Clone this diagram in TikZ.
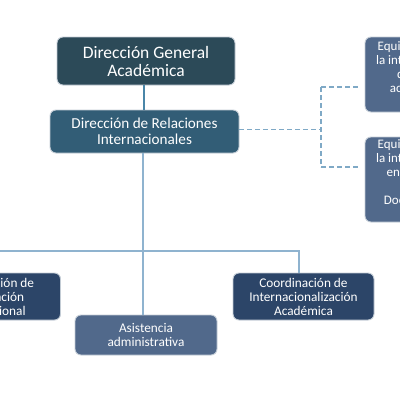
\documentclass[tikz,border=0pt]{standalone}
\usepackage{fontspec}
\setmainfont{Carlito}
\definecolor{cTop}{HTML}{2C4A58}
\definecolor{cRel}{HTML}{325D76}
\definecolor{cCoord}{HTML}{2C4568}
\definecolor{cLight}{HTML}{51698B}
\definecolor{cEdge}{HTML}{C3CCD5}
\definecolor{cLineA}{HTML}{4A86A8}
\definecolor{cLineB}{HTML}{8FB3CF}
\definecolor{cDash}{HTML}{7FA9C6}
\tikzset{
  box/.style={draw=cEdge, line width=0.9pt, rounded corners=6pt, text=white,
    align=center, inner sep=1pt, font=\fontsize{13.3}{14}\selectfont},
  boxtext/.style={text=white, align=center, inner sep=0pt, font=\fontsize{13}{14}\selectfont},
  connA/.style={draw=cLineA, line width=1.6pt},
  connB/.style={draw=cLineB, line width=1.6pt},
  connD/.style={draw=cDash, line width=1.6pt, dash pattern=on 5pt off 3pt},
}
\begin{document}
\begin{tikzpicture}[x=1pt,y=-1pt]
\useasboundingbox (0,0) rectangle (400,400);
% nodes
\node[box, fill=cTop, minimum width=178pt, minimum height=48pt,
  font=\fontsize{17.5}{18}\selectfont] (top) at (146,61)
  {Dirección General\\Académica};
\node[box, fill=cRel, minimum width=189pt, minimum height=43pt,
  font=\fontsize{15.2}{16}\selectfont] (rel) at (144.5,131.5)
  {Dirección de Relaciones\\Internacionales};
\node[box, fill=cCoord, minimum width=141pt, minimum height=47pt] (left) at (-10,296.5)
  {Coordinación de\\Cooperación\\Internacional};
\node[box, fill=cCoord, minimum width=141pt, minimum height=47pt] (coordAc) at (303.5,296.5)
  {Coordinación de\\Internacionalización\\Académica};
\node[box, fill=cLight, minimum width=142pt, minimum height=40pt] (asis) at (146,335)
  {Asistencia\\administrativa};
\node[box, fill=cLight, minimum width=140pt, minimum height=75pt] (eqA) at (435,74.5) {};
\node[boxtext] (eqAt) at (435,67)
  {Equipo de apoyo para\\la internacionalización\\de la docencia\\académica en los};
\node[box, fill=cLight, minimum width=140pt, minimum height=85pt] (eqB) at (435,179.5) {};
\node[boxtext] (eqBt) at (435,172)
  {Equipo de apoyo para\\la internacionalización\\en la investigación\\\mbox{}\\Docentes visitantes};
% coordinates
\coordinate (bR) at (299,251);
\coordinate (dX) at (321,129.5);
% solid connectors
\draw[connA] (rel.north -| 144,0) -- (top.south -| 144,0);
\draw[connB] (rel.south -| 143,0) -- (asis.north -| 143,0);
\draw[connB] (left.north) -- (left.north |- bR) -- (bR) -- (bR |- coordAc.north);
% dashed connectors
\draw[connD] (rel.east |- dX) -- (dX);
\draw[connD] (dX |- 0,87) -- (dX |- 0,167);
\draw[connD] (dX |- 0,87) -- (358,87);
\draw[connD] (dX |- 0,167) -- (358,167);
\end{tikzpicture}
\end{document}
